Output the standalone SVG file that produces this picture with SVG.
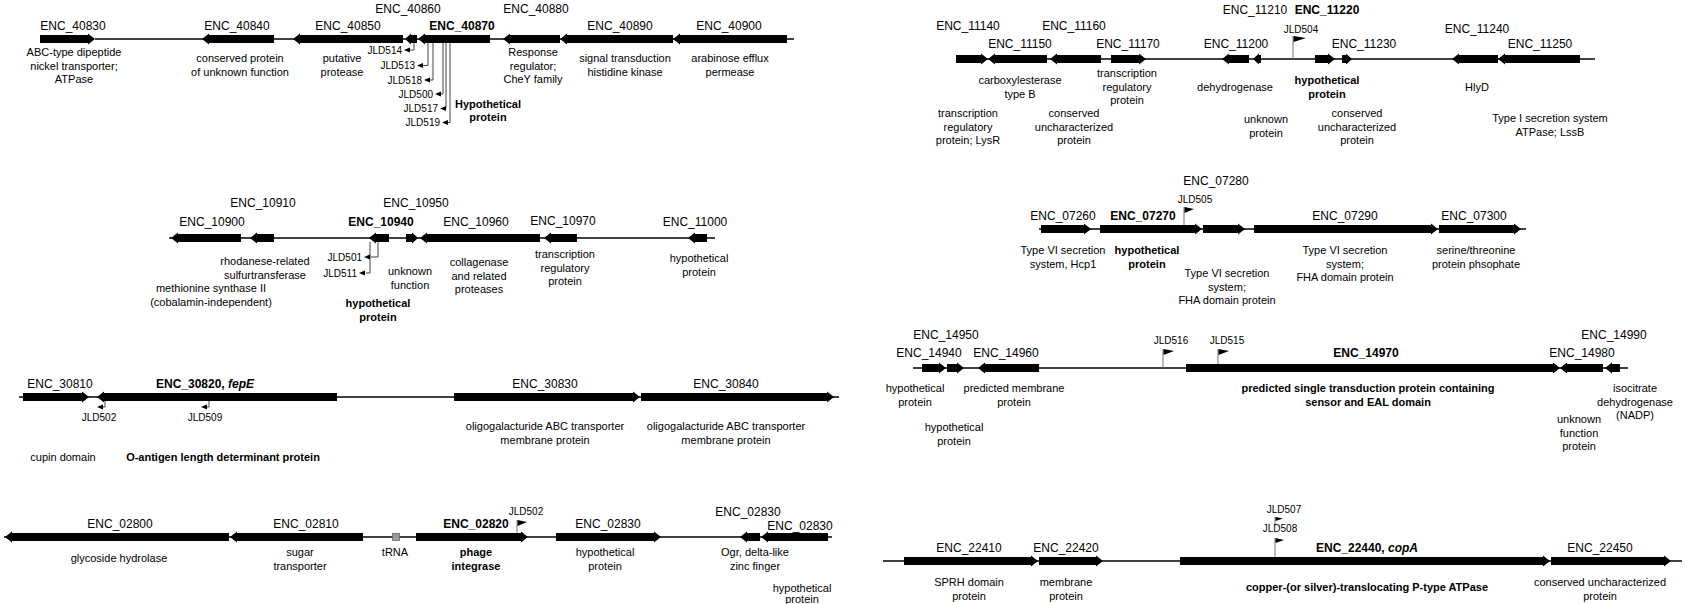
<svg xmlns="http://www.w3.org/2000/svg" width="1687" height="604" viewBox="0 0 1687 604">
<style>
text{font-family:"Liberation Sans",Arial,sans-serif;fill:#000;text-anchor:middle}
.l{font-size:12px}
.d{font-size:11px}
.j{font-size:10px}
.b{font-weight:bold}
.e{text-anchor:end}
.g{fill:#000}
.bb{stroke:#000;stroke-width:1.5;fill:none}
.ld{stroke:#444;stroke-width:1;fill:none}
.pole{stroke:#777;stroke-width:1;fill:none}
</style>
<rect width="1687" height="604" fill="#fff"/>
<g id="connectors">
<line class="bb" x1="95" y1="39" x2="794" y2="39"/>
<line class="bb" x1="956" y1="59" x2="1595" y2="59"/>
<line class="bb" x1="169" y1="238" x2="715" y2="238"/>
<line class="bb" x1="1039" y1="229" x2="1526" y2="229"/>
<line class="bb" x1="19" y1="397" x2="839" y2="397"/>
<line class="bb" x1="913" y1="368" x2="1628" y2="368"/>
<line class="bb" x1="4" y1="537" x2="832" y2="537"/>
<line class="bb" x1="883" y1="561" x2="1682" y2="561"/>
<path class="ld" d="M414,43V50H409M428,43V65.5H423M433,43V80H430M443,43V94H441M446,43V108.5H446M450,43V122.5H448"/>
<path class="ld" d="M378,242V257H370M370,242V273H366"/>
<path class="ld" d="M105,401V407H103M209,401V407H207"/>
<path class="pole" d="M1293,59V36M1184,229V207M1163,368V349M1218,368V349M517,537V520M1275,561V538M1275,526V517"/>
</g>
<g id="row1-left">
<g id="ENC_40830"><path class="g" d="M40,35H88V33.5L95,39L88,44.5V43H40Z"/><text class="l" x="73" y="30">ENC_40830</text><text class="d" x="74" y="56">ABC-type dipeptide</text><text class="d" x="74" y="69.5">nickel transporter;</text><text class="d" x="74" y="83">ATPase</text></g>
<g id="ENC_40840"><path class="g" d="M274,35H209V33.5L202,39L209,44.5V43H274Z"/><text class="l" x="237" y="30">ENC_40840</text><text class="d" x="240" y="62">conserved protein</text><text class="d" x="240" y="75.5">of unknown function</text></g>
<g id="ENC_40850"><path class="g" d="M403,35H300V33.5L293,39L300,44.5V43H403Z"/><text class="l" x="348" y="30">ENC_40850</text><text class="d" x="342" y="62">putative</text><text class="d" x="342" y="75.5">protease</text></g>
<g id="ENC_40860"><path class="g" d="M417,35H411V33.5L405,39L411,44.5V43H417Z"/><text class="l" x="408" y="12.5">ENC_40860</text></g>
<g id="ENC_40870"><path class="g" d="M490,35H425V33.5L418,39L425,44.5V43H490Z"/><text class="l b" x="462" y="30">ENC_40870</text><text class="d b" x="488" y="107.5">Hypothetical</text><text class="d b" x="488" y="121">protein</text></g>
<g id="ENC_40880"><path class="g" d="M560,35H510V33.5L503,39L510,44.5V43H560Z"/><text class="l" x="536" y="12.5">ENC_40880</text><text class="d" x="533" y="56">Response</text><text class="d" x="533" y="69.5">regulator;</text><text class="d" x="533" y="83">CheY family</text></g>
<g id="ENC_40890"><path class="g" d="M673,35H567V33.5L560,39L567,44.5V43H673Z"/><text class="l" x="620" y="30">ENC_40890</text><text class="d" x="625" y="62">signal transduction</text><text class="d" x="625" y="75.5">histidine kinase</text></g>
<g id="ENC_40900"><path class="g" d="M787,35H680V33.5L673,39L680,44.5V43H787Z"/><text class="l" x="729" y="30">ENC_40900</text><text class="d" x="730" y="62">arabinose efflux</text><text class="d" x="730" y="75.5">permease</text></g>
<g id="JLD514"><path class="g" d="M404,50L410,47.5V52.5Z"/><text class="j e" x="402" y="53.5">JLD514</text></g>
<g id="JLD513"><path class="g" d="M417,65.5L423,63V68Z"/><text class="j e" x="415" y="69">JLD513</text></g>
<g id="JLD518"><path class="g" d="M424,80L430,77.5V82.5Z"/><text class="j e" x="422" y="83.5">JLD518</text></g>
<g id="JLD500"><path class="g" d="M435,94L441,91.5V96.5Z"/><text class="j e" x="433" y="97.5">JLD500</text></g>
<g id="JLD517"><path class="g" d="M440,108.5L446,106V111Z"/><text class="j e" x="438" y="112">JLD517</text></g>
<g id="JLD519"><path class="g" d="M442,122.5L448,120V125Z"/><text class="j e" x="440" y="126">JLD519</text></g>
</g>
<g id="row1-right">
<g id="ENC_11140"><path class="g" d="M956,55H981V53.5L988,59L981,64.5V63H956Z"/><text class="l" x="968" y="30">ENC_11140</text><text class="d" x="968" y="117">transcription</text><text class="d" x="968" y="130.5">regulatory</text><text class="d" x="968" y="144">protein; LysR</text></g>
<g id="ENC_11150"><path class="g" d="M1047,55H995V53.5L988,59L995,64.5V63H1047Z"/><text class="l" x="1020" y="48">ENC_11150</text><text class="d" x="1020" y="84">carboxylesterase</text><text class="d" x="1020" y="97.5">type B</text></g>
<g id="ENC_11160"><path class="g" d="M1101,55H1057V53.5L1050,59L1057,64.5V63H1101Z"/><text class="l" x="1074" y="30">ENC_11160</text><text class="d" x="1074" y="117">conserved</text><text class="d" x="1074" y="130.5">uncharacterized</text><text class="d" x="1074" y="144">protein</text></g>
<g id="ENC_11170"><path class="g" d="M1111,55H1139V53.5L1146,59L1139,64.5V63H1111Z"/><text class="l" x="1128" y="48">ENC_11170</text><text class="d" x="1127" y="77">transcription</text><text class="d" x="1127" y="90.5">regulatory</text><text class="d" x="1127" y="104">protein</text></g>
<g id="ENC_11200"><path class="g" d="M1249,55H1229V53.5L1222,59L1229,64.5V63H1249Z"/><text class="l" x="1236" y="48">ENC_11200</text><text class="d" x="1235" y="91">dehydrogenase</text></g>
<g id="ENC_11210"><path class="g" d="M1261,55H1259V53.5L1253,59L1259,64.5V63H1261Z"/><text class="l" x="1255" y="13.5">ENC_11210</text><text class="d" x="1266" y="123">unknown</text><text class="d" x="1266" y="136.5">protein</text></g>
<g id="JLD504"><path class="g" d="M1293.5,36L1306,38L1293.5,42Z"/><text class="j" x="1301" y="32.5">JLD504</text></g>
<g id="ENC_11220"><path class="g" d="M1315,55H1328V53.5L1335,59L1328,64.5V63H1315Z"/><text class="l b" x="1327" y="13.5">ENC_11220</text><text class="d b" x="1327" y="84">hypothetical</text><text class="d b" x="1327" y="97.5">protein</text></g>
<g id="ENC_11230"><path class="g" d="M1342,55H1346V53.5L1352,59L1346,64.5V63H1342Z"/><text class="l" x="1364" y="48">ENC_11230</text><text class="d" x="1357" y="117">conserved</text><text class="d" x="1357" y="130.5">uncharacterized</text><text class="d" x="1357" y="144">protein</text></g>
<g id="ENC_11240"><path class="g" d="M1498,55H1459V53.5L1452,59L1459,64.5V63H1498Z"/><text class="l" x="1477" y="33">ENC_11240</text><text class="d" x="1477" y="91">HlyD</text></g>
<g id="ENC_11250"><path class="g" d="M1580,55H1505V53.5L1498,59L1505,64.5V63H1580Z"/><text class="l" x="1540" y="48">ENC_11250</text><text class="d" x="1550" y="122">Type I secretion system</text><text class="d" x="1550" y="135.5">ATPase; LssB</text></g>
</g>
<g id="row2-left">
<g id="ENC_10900"><path class="g" d="M241,234H178V232.5L171,238L178,243.5V242H241Z"/><text class="l" x="212" y="226">ENC_10900</text><text class="d" x="211" y="292">methionine synthase II</text><text class="d" x="211" y="305.5">(cobalamin-independent)</text></g>
<g id="ENC_10910"><path class="g" d="M274,234H257V232.5L250,238L257,243.5V242H274Z"/><text class="l" x="263" y="207">ENC_10910</text><text class="d" x="265" y="265">rhodanese-related</text><text class="d" x="265" y="278.5">sulfurtransferase</text></g>
<g id="ENC_10940"><path class="g" d="M389,234H376V232.5L369,238L376,243.5V242H389Z"/><text class="l b" x="381" y="226">ENC_10940</text><text class="d b" x="378" y="307">hypothetical</text><text class="d b" x="378" y="320.5">protein</text></g>
<g id="JLD501"><path class="g" d="M364,257L370,254.5V259.5Z"/><text class="j e" x="362" y="260.5">JLD501</text></g>
<g id="JLD511"><path class="g" d="M359,273L365,270.5V275.5Z"/><text class="j e" x="357" y="276.5">JLD511</text></g>
<g id="ENC_10950"><path class="g" d="M406,234H412V232.5L418,238L412,243.5V242H406Z"/><text class="l" x="416" y="207">ENC_10950</text><text class="d" x="410" y="275">unknown</text><text class="d" x="410" y="288.5">function</text></g>
<g id="ENC_10960"><path class="g" d="M540,234H427V232.5L420,238L427,243.5V242H540Z"/><text class="l" x="476" y="226">ENC_10960</text><text class="d" x="479" y="266">collagenase</text><text class="d" x="479" y="279.5">and related</text><text class="d" x="479" y="293">proteases</text></g>
<g id="ENC_10970"><path class="g" d="M577,234H551V232.5L544,238L551,243.5V242H577Z"/><text class="l" x="563" y="225">ENC_10970</text><text class="d" x="565" y="258">transcription</text><text class="d" x="565" y="271.5">regulatory</text><text class="d" x="565" y="285">protein</text></g>
<g id="ENC_11000"><path class="g" d="M707,234H695V232.5L688,238L695,243.5V242H707Z"/><text class="l" x="695" y="226">ENC_11000</text><text class="d" x="699" y="262">hypothetical</text><text class="d" x="699" y="275.5">protein</text></g>
</g>
<g id="row2-right">
<g id="ENC_07260"><path class="g" d="M1041,225H1084V223.5L1091,229L1084,234.5V233H1041Z"/><text class="l" x="1063" y="220">ENC_07260</text><text class="d" x="1063" y="254">Type VI secretion</text><text class="d" x="1063" y="267.5">system, Hcp1</text></g>
<g id="ENC_07270"><path class="g" d="M1100,225H1195V223.5L1202,229L1195,234.5V233H1100Z"/><text class="l b" x="1143" y="220">ENC_07270</text><text class="d b" x="1147" y="254">hypothetical</text><text class="d b" x="1147" y="267.5">protein</text></g>
<g id="JLD505"><path class="g" d="M1184.5,207L1194,209L1184.5,213Z"/><text class="j" x="1195" y="203">JLD505</text></g>
<g id="ENC_07280"><path class="g" d="M1203,225H1238V223.5L1245,229L1238,234.5V233H1203Z"/><text class="l" x="1216" y="185">ENC_07280</text><text class="d" x="1227" y="277">Type VI secretion</text><text class="d" x="1227" y="290.5">system;</text><text class="d" x="1227" y="304">FHA domain protein</text></g>
<g id="ENC_07290"><path class="g" d="M1254,225H1431V223.5L1438,229L1431,234.5V233H1254Z"/><text class="l" x="1345" y="220">ENC_07290</text><text class="d" x="1345" y="254">Type VI secretion</text><text class="d" x="1345" y="267.5">system;</text><text class="d" x="1345" y="281">FHA domain protein</text></g>
<g id="ENC_07300"><path class="g" d="M1439,225H1514V223.5L1521,229L1514,234.5V233H1439Z"/><text class="l" x="1474" y="220">ENC_07300</text><text class="d" x="1476" y="254">serine/threonine</text><text class="d" x="1476" y="267.5">protein phsophate</text></g>
</g>
<g id="row3-left">
<g id="ENC_30810"><path class="g" d="M23,393H82V391.5L89,397L82,402.5V401H23Z"/><text class="l" x="60" y="388">ENC_30810</text><text class="d" x="63" y="461">cupin domain</text></g>
<g id="ENC_30820"><path class="g" d="M337,393H104V391.5L97,397L104,402.5V401H337Z"/><text class="l b" x="205" y="388">ENC_30820, <tspan font-style="italic">fepE</tspan></text><text class="d b" x="223" y="461">O-antigen length determinant protein</text></g>
<g id="JLD502a"><path class="g" d="M97,407L103,404.5V409.5Z"/><text class="j" x="99" y="421">JLD502</text></g>
<g id="JLD509"><path class="g" d="M201,407L207,404.5V409.5Z"/><text class="j" x="205" y="421">JLD509</text></g>
<g id="ENC_30830"><path class="g" d="M454,393H633V391.5L640,397L633,402.5V401H454Z"/><text class="l" x="545" y="388">ENC_30830</text><text class="d" x="545" y="430">oligogalacturide ABC transporter</text><text class="d" x="545" y="443.5">membrane protein</text></g>
<g id="ENC_30840"><path class="g" d="M641,393H827V391.5L834,397L827,402.5V401H641Z"/><text class="l" x="726" y="388">ENC_30840</text><text class="d" x="726" y="430">oligogalacturide ABC transporter</text><text class="d" x="726" y="443.5">membrane protein</text></g>
</g>
<g id="row3-right">
<g id="ENC_14940"><path class="g" d="M922,364H939V362.5L946,368L939,373.5V372H922Z"/><text class="l" x="929" y="357">ENC_14940</text><text class="d" x="915" y="392">hypothetical</text><text class="d" x="915" y="405.5">protein</text></g>
<g id="ENC_14950"><path class="g" d="M947,364H957V362.5L964,368L957,373.5V372H947Z"/><text class="l" x="946" y="339">ENC_14950</text><text class="d" x="954" y="431">hypothetical</text><text class="d" x="954" y="444.5">protein</text></g>
<g id="ENC_14960"><path class="g" d="M1039,364H985V362.5L978,368L985,373.5V372H1039Z"/><text class="l" x="1006" y="357">ENC_14960</text><text class="d" x="1014" y="392">predicted membrane</text><text class="d" x="1014" y="405.5">protein</text></g>
<g id="JLD516"><path class="g" d="M1163.5,349L1174,351L1163.5,355Z"/><text class="j" x="1171" y="343.5">JLD516</text></g>
<g id="JLD515"><path class="g" d="M1218.5,349L1229,351L1218.5,355Z"/><text class="j" x="1227" y="343.5">JLD515</text></g>
<g id="ENC_14970"><path class="g" d="M1186,364H1553V362.5L1560,368L1553,373.5V372H1186Z"/><text class="l b" x="1366" y="357">ENC_14970</text><text class="d b" x="1368" y="392">predicted single transduction protein containing</text><text class="d b" x="1368" y="405.5">sensor and EAL domain</text></g>
<g id="ENC_14980"><path class="g" d="M1603,364H1567V362.5L1560,368L1567,373.5V372H1603Z"/><text class="l" x="1582" y="357">ENC_14980</text><text class="d" x="1579" y="423">unknown</text><text class="d" x="1579" y="436.5">function</text><text class="d" x="1579" y="450">protein</text></g>
<g id="ENC_14990"><path class="g" d="M1620,364H1612V362.5L1605,368L1612,373.5V372H1620Z"/><text class="l" x="1614" y="339">ENC_14990</text><text class="d" x="1635" y="392">isocitrate</text><text class="d" x="1635" y="405.5">dehydrogenase</text><text class="d" x="1635" y="419">(NADP)</text></g>
</g>
<g id="row4-left">
<g id="ENC_02800"><path class="g" d="M229,533H12V531.5L5,537L12,542.5V541H229Z"/><text class="l" x="120" y="528">ENC_02800</text><text class="d" x="119" y="562">glycoside hydrolase</text></g>
<g id="ENC_02810"><path class="g" d="M363,533H237V531.5L230,537L237,542.5V541H363Z"/><text class="l" x="306" y="528">ENC_02810</text><text class="d" x="300" y="556">sugar</text><text class="d" x="300" y="569.5">transporter</text></g>
<g id="tRNA"><rect x="392.5" y="533.5" width="7" height="7" fill="#9a9a9a" stroke="#666" stroke-width="0.8"/><text class="d" x="395" y="556">tRNA</text></g>
<g id="ENC_02820"><path class="g" d="M416,533H521V531.5L528,537L521,542.5V541H416Z"/><text class="l b" x="476" y="528">ENC_02820</text><text class="d b" x="476" y="556">phage</text><text class="d b" x="476" y="569.5">integrase</text></g>
<g id="JLD502b"><path class="g" d="M517.5,520L527,522L517.5,526Z"/><text class="j" x="526" y="515">JLD502</text></g>
<g id="ENC_02830a"><path class="g" d="M556,533H654V531.5L661,537L654,542.5V541H556Z"/><text class="l" x="608" y="528">ENC_02830</text><text class="d" x="605" y="556">hypothetical</text><text class="d" x="605" y="569.5">protein</text></g>
<g id="ENC_02830b"><path class="g" d="M760,533H747V531.5L740,537L747,542.5V541H760Z"/><text class="l" x="748" y="516">ENC_02830</text><text class="d" x="755" y="556">Ogr, delta-like</text><text class="d" x="755" y="569.5">zinc finger</text></g>
<g id="ENC_02830c"><path class="g" d="M828,533H768V531.5L761,537L768,542.5V541H828Z"/><text class="l" x="800" y="530">ENC_02830</text><text class="d" x="802" y="592">hypothetical</text><text class="d" x="802" y="603">protein</text></g>
</g>
<g id="row4-right">
<g id="ENC_22410"><path class="g" d="M904,557H1031V555.5L1038,561L1031,566.5V565H904Z"/><text class="l" x="969" y="552">ENC_22410</text><text class="d" x="969" y="586">SPRH domain</text><text class="d" x="969" y="599.5">protein</text></g>
<g id="ENC_22420"><path class="g" d="M1039,557H1096V555.5L1103,561L1096,566.5V565H1039Z"/><text class="l" x="1066" y="552">ENC_22420</text><text class="d" x="1066" y="586">membrane</text><text class="d" x="1066" y="599.5">protein</text></g>
<g id="JLD507"><path class="g" d="M1275.5,517L1283,518.5L1275.5,521Z"/><text class="j" x="1284" y="513">JLD507</text></g>
<g id="JLD508"><path class="g" d="M1275.5,538L1284,540L1275.5,543Z"/><text class="j" x="1280" y="532">JLD508</text></g>
<g id="ENC_22440"><path class="g" d="M1180,557H1543V555.5L1550,561L1543,566.5V565H1180Z"/><text class="l b" x="1367" y="552">ENC_22440, <tspan font-style="italic">copA</tspan></text><text class="d b" x="1367" y="591">copper-(or silver)-translocating P-type ATPase</text></g>
<g id="ENC_22450"><path class="g" d="M1551,557H1664V555.5L1671,561L1664,566.5V565H1551Z"/><text class="l" x="1600" y="552">ENC_22450</text><text class="d" x="1600" y="586">conserved uncharacterized</text><text class="d" x="1600" y="599.5">protein</text></g>
</g>
</svg>
